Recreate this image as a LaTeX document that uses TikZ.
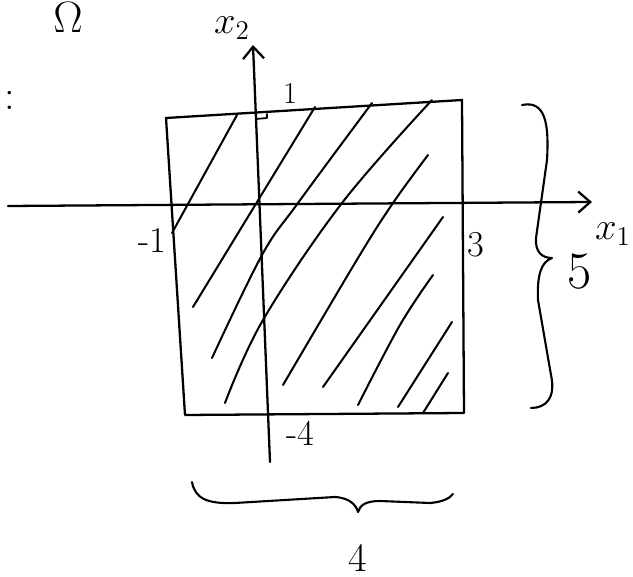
\documentclass[tikz,border=0pt]{standalone}
\usepackage{fix-cm}
\usetikzlibrary{arrows.meta}
\begin{document}
\begin{tikzpicture}[x=0.02cm,y=-0.02cm,>={Straight Barb[length=2.4mm,width=4.2mm]},line width=1.3pt,line cap=round,line join=round,
  hatch/.style={line width=1.15pt},
  brace line/.style={line width=1.2pt},
  tick label/.style={inner sep=0pt,font=\LARGE}]
\useasboundingbox (0,0) rectangle (633,577);
\coordinate (tl) at (166,118);
\coordinate (tr) at (462,100);
\coordinate (br) at (464,413);
\coordinate (bl) at (185,415);
\coordinate (x1start) at (8,206);
\coordinate (x1end) at (592,202);
\coordinate (x2start) at (270,462);
\coordinate (x2end) at (253,45);
\draw (tl) -- (tr) -- (br) -- (bl) -- cycle;
\draw[->] (x1start) -- (x1end);
\draw[->] (x2start) -- (x2end);
\draw[line width=1pt] (256,119) -- (267,118) -- (267,114);
\draw[hatch] (237,115) -- (172,233);
\draw[hatch] (315,107) -- (193,307);
\draw[hatch] plot[smooth,tension=.6] coordinates {(372,103) (298,203) (262,255) (212,358)};
\draw[hatch] plot[smooth,tension=.6] coordinates {(432,100) (342,203) (263,320) (225,403)};
\draw[hatch] plot[smooth,tension=.6] coordinates {(428,155) (393,203) (358,258) (283,385)};
\draw[hatch] (443,217) -- (323,387);
\draw[hatch] plot[smooth,tension=.6] coordinates {(433,275) (400,325) (358,405)};
\draw[hatch] (452,322) -- (398,407);
\draw[hatch] (448,373) -- (423,413);
\draw[brace line] (522,105) .. controls (546,100) and (549,125) .. (547,160) -- (536,238) .. controls (535,252) and (542,258) .. (552,258)
  .. controls (541,262) and (537,275) .. (538,300) -- (551,375) .. controls (556,398) and (546,408) .. (531,408);
\draw[brace line] (192,482) .. controls (195,499) and (208,504) .. (235,503) -- (335,497) .. controls (350,498) and (356,505) .. (358,512)
  .. controls (360,505) and (366,501) .. (380,501) -- (430,503) .. controls (443,502) and (450,498) .. (453,494);
\node[inner sep=0pt,font=\fontsize{25}{27}\selectfont] (omega) at (68,18) {$\Omega$};
\node[inner sep=0pt,font=\fontsize{24}{26}\selectfont] (colon) at (10,100) {:};
\node[inner sep=0pt,font=\fontsize{22}{24}\selectfont] (x2label) at (232,28) {$x_2$};
\node[inner sep=0pt,font=\fontsize{22}{24}\selectfont] (x1label) at (613,234) {$x_1$};
\node[tick label] (top) at (290,93) {1};
\node[tick label,font=\huge] (left) at (152,240) {-1};
\node[tick label,font=\huge] (right) at (476,245) {3};
\node[tick label,font=\huge] (bottom) at (300,433) {-4};
\node[inner sep=0pt,font=\fontsize{30}{32}\selectfont] (height) at (580,272) {5};
\node[inner sep=0pt,font=\fontsize{23}{25}\selectfont] (width) at (358,558) {4};
\end{tikzpicture}
\end{document}
